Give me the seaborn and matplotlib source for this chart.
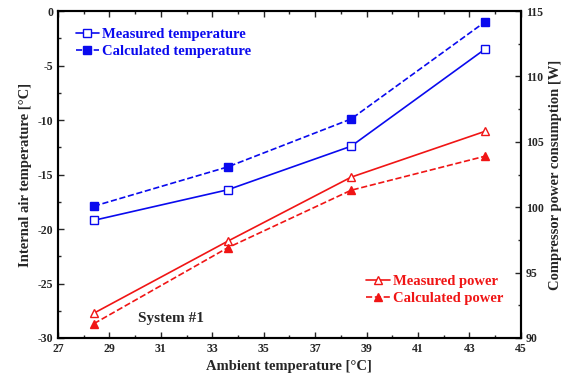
import matplotlib
matplotlib.use("Agg")
import matplotlib.pyplot as plt
import seaborn as sns
import numpy as np
from matplotlib.ticker import MultipleLocator

ambient = [28.4, 33.6, 38.4, 43.6]
meas_temp = [-19.2, -16.4, -12.4, -3.5]
calc_temp = [-17.9, -14.3, -9.9, -1.0]
meas_power = [91.9, 97.4, 102.3, 105.8]
calc_power = [91.1, 96.9, 101.3, 103.9]
x_ticks = [27, 29, 31, 33, 35, 37, 39, 41, 43, 45]

BLUE = "#0a0aee"
RED = "#f01515"

sns.set_style("ticks")
plt.rcParams["font.family"] = ["Liberation Serif", "DejaVu Serif"]
plt.rcParams["font.weight"] = "bold"
plt.rcParams["axes.labelweight"] = "bold"
plt.rcParams["axes.unicode_minus"] = False
plt.rcParams["xtick.direction"] = "in"
plt.rcParams["ytick.direction"] = "in"

fig = plt.figure(figsize=(5.68, 3.83), dpi=100)
ax = fig.add_axes([0.102, 0.1175, 0.815, 0.8535])
ax2 = ax.twinx()

def draw(axis, y, color, marker, ls, filled, label):
    sns.lineplot(x=ambient, y=y, ax=axis, color=color, marker=marker,
                 linestyle=ls, linewidth=1.2, markersize=6,
                 dashes=(4, 2) if ls == "--" else None,
                 markerfacecolor=color if filled else "white",
                 markeredgecolor=color, markeredgewidth=1.0, label=label)

draw(ax, meas_temp, BLUE, "s", "-", False, "Measured temperature")
draw(ax, calc_temp, BLUE, "s", "--", True, "Calculated temperature")
draw(ax2, meas_power, RED, "^", "-", False, "Measured power")
draw(ax2, calc_power, RED, "^", "--", True, "Calculated power")

ax.set_xlim(27, 45)
ax.set_ylim(-30, 0)
ax2.set_ylim(90, 115)
ax.set_xticks(x_ticks)
ax.xaxis.set_minor_locator(MultipleLocator(1))
ax.yaxis.set_major_locator(MultipleLocator(5))
ax.yaxis.set_minor_locator(MultipleLocator(2.5))
ax2.yaxis.set_major_locator(MultipleLocator(5))
ax2.yaxis.set_minor_locator(MultipleLocator(2.5))

for a in (ax, ax2):
    a.tick_params(which="both", direction="in", labelsize=8.5, width=1)
    a.tick_params(which="major", length=4)
    a.tick_params(which="minor", length=2)
    for sp in a.spines.values():
        sp.set_visible(True)
        sp.set_linewidth(1.5)
        sp.set_color("black")
ax.tick_params(top=True, which="both")
ax.tick_params(axis="y", right=False, which="both")

ax.set_xlabel("Ambient temperature [°C]", fontsize=10.5, fontweight="bold")
ax.set_ylabel("Internal air temperature [°C]", fontsize=10.5, fontweight="bold")
ax2.set_ylabel("Compressor power consumption [W]", fontsize=10.5, fontweight="bold")

leg1 = ax.legend(loc="upper left", bbox_to_anchor=(0.01, 0.99), frameon=False,
                 handlelength=1.6, handletextpad=0.2, labelspacing=0.3,
                 prop={"size": 10.5, "weight": "bold"}, labelcolor="linecolor")
leg2 = ax2.legend(loc="lower right", bbox_to_anchor=(0.99, 0.06), frameon=False,
                  handlelength=1.6, handletextpad=0.2, labelspacing=0.3,
                  prop={"size": 10.5, "weight": "bold"}, labelcolor="linecolor")

ax.text(31.4, -28.2, "System #1", fontsize=11, fontweight="bold",
        ha="center", va="center")

fig.savefig("out.png", dpi=100)
